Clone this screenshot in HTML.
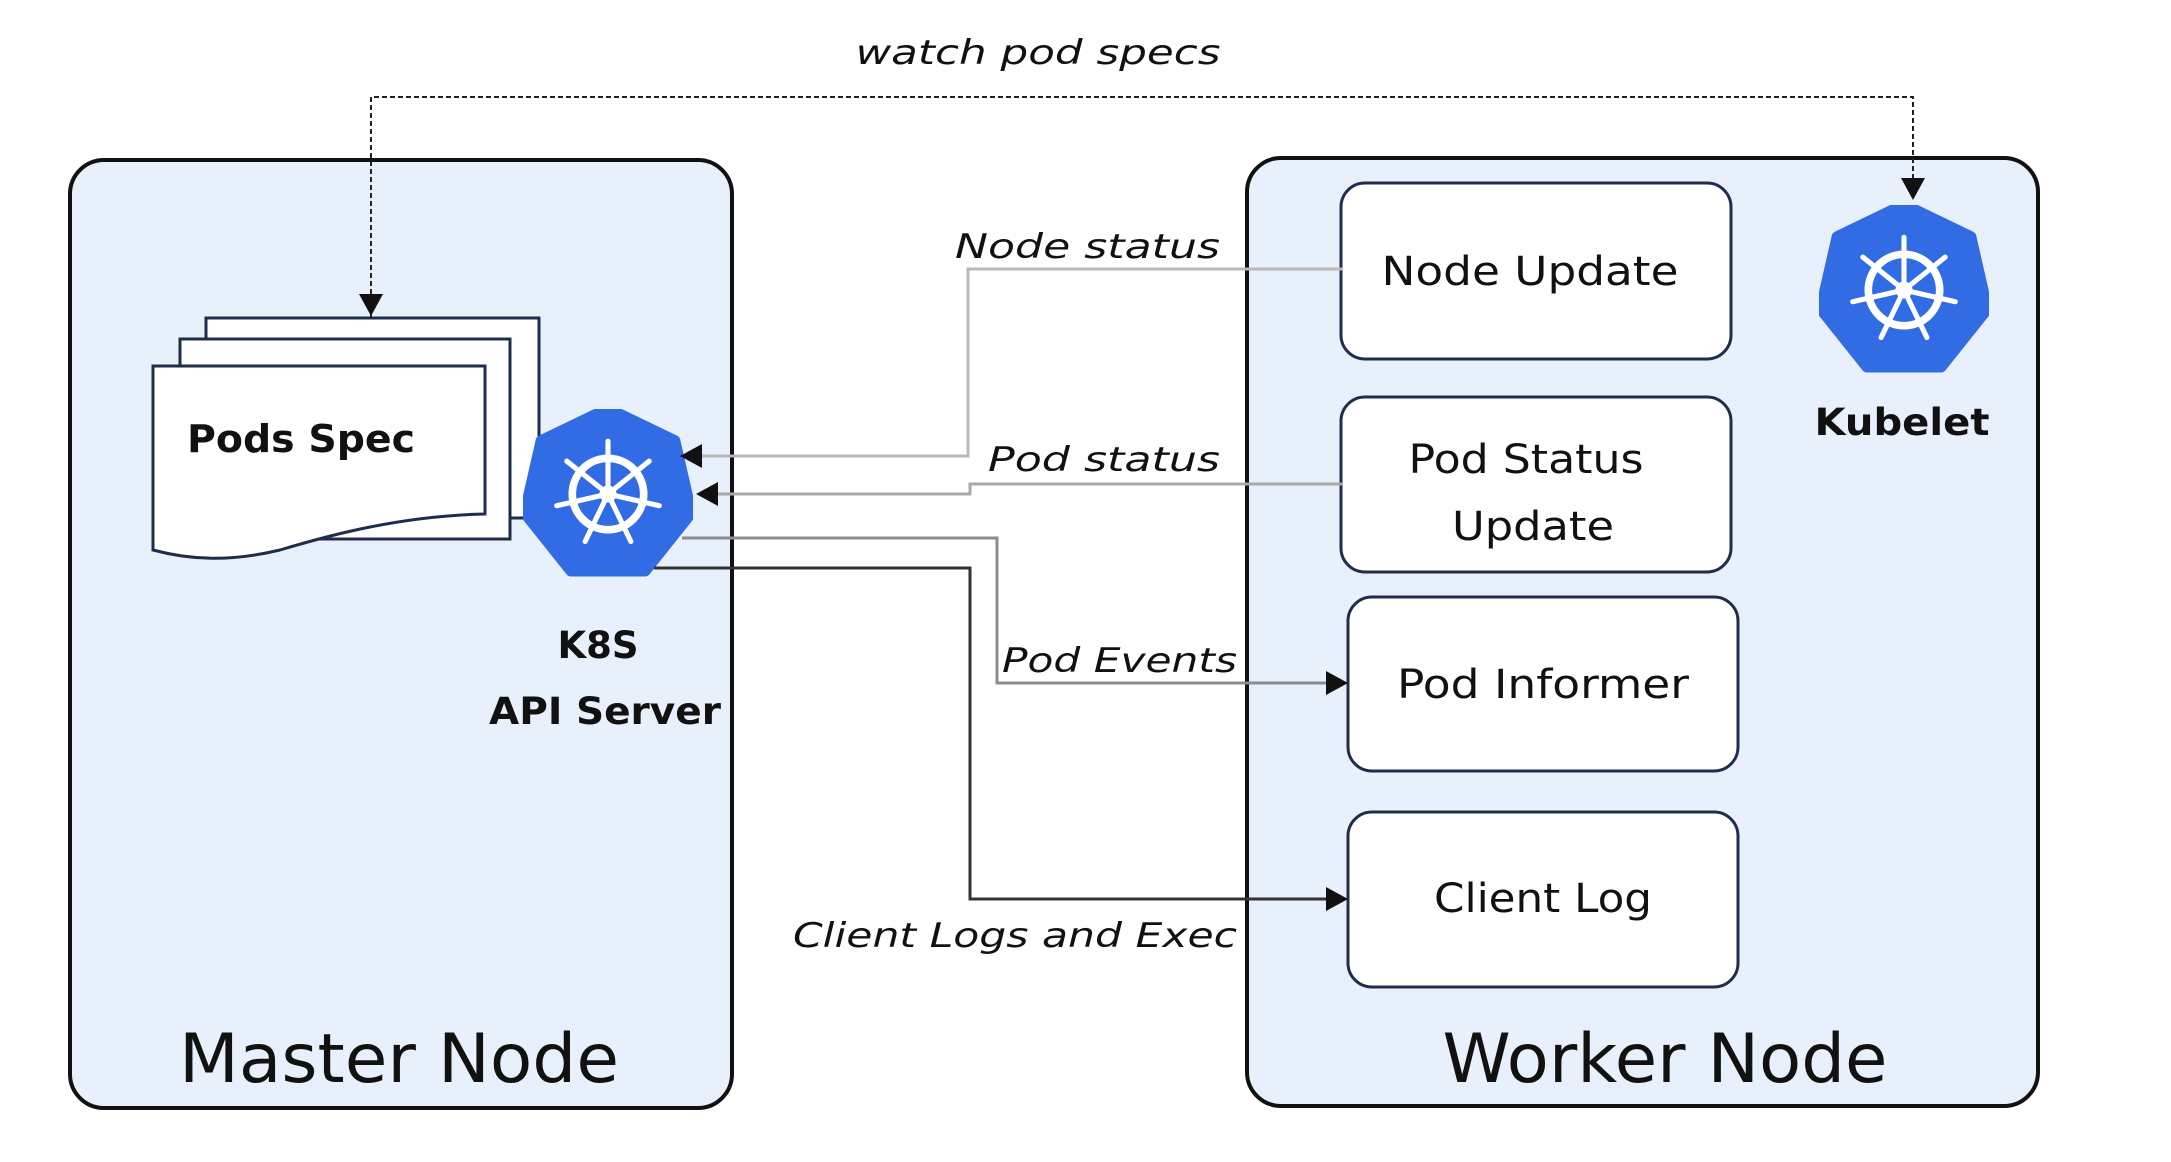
<!DOCTYPE html>
<html><head><meta charset="utf-8"><style>
html,body{margin:0;padding:0;background:#fff;}
svg{display:block;}
text{font-family:"DejaVu Sans","Liberation Sans",sans-serif;}
</style></head><body>
<svg width="2171" height="1162" viewBox="0 0 2171 1162" xmlns="http://www.w3.org/2000/svg">
<defs>
<symbol id="k8s" viewBox="-100 -100 200 200">
<polygon points="0,-100 78.18,-62.35 97.49,22.25 43.39,90.1 -43.39,90.1 -97.49,22.25 -78.18,-62.35" fill="#326CE5" stroke="#326CE5" stroke-width="14" stroke-linejoin="round"/>
<circle cx="0" cy="0" r="42" fill="none" stroke="#fff" stroke-width="9"/>
<circle cx="0" cy="0" r="10" fill="#fff"/>
<g stroke="#fff" stroke-width="6" stroke-linecap="round">
<line x1="0" y1="0" x2="0" y2="-62"/>
<line x1="0" y1="0" x2="48.5" y2="-38.7"/>
<line x1="0" y1="0" x2="60.4" y2="13.8"/>
<line x1="0" y1="0" x2="26.9" y2="55.9"/>
<line x1="0" y1="0" x2="-26.9" y2="55.9"/>
<line x1="0" y1="0" x2="-60.4" y2="13.8"/>
<line x1="0" y1="0" x2="-48.5" y2="-38.7"/>
</g>
</symbol>
</defs>

<!-- Master node -->
<rect x="70" y="160" width="662" height="948" rx="34" fill="#E8F1FB" stroke="#111" stroke-width="4"/>
<text x="399" y="1082" font-size="68" text-anchor="middle" fill="#111" textLength="440" lengthAdjust="spacingAndGlyphs">Master Node</text>

<!-- Pods Spec pages -->
<rect x="206" y="318" width="333" height="200" fill="#fff" stroke="#1f2d4d" stroke-width="3"/>
<rect x="180" y="339" width="330" height="200" fill="#fff" stroke="#1f2d4d" stroke-width="3"/>
<path d="M153,366 L485,366 L485,514 C400,516 330,535 280,550 C230,562 190,560 153,550 Z" fill="#fff" stroke="#1f2d4d" stroke-width="3"/>
<text x="187" y="452" font-size="38" font-weight="bold" fill="#111" textLength="228" lengthAdjust="spacingAndGlyphs">Pods Spec</text>

<!-- API server logo -->
<use href="#k8s" x="523" y="409" width="170" height="170"/>
<text x="598" y="658" font-size="37" font-weight="bold" text-anchor="middle" fill="#111">K8S</text>
<text x="605" y="724" font-size="37" font-weight="bold" text-anchor="middle" fill="#111" textLength="232" lengthAdjust="spacingAndGlyphs">API Server</text>

<g transform="translate(-9,0)">
<!-- Worker node -->
<rect x="1256" y="158" width="791" height="948" rx="34" fill="#E8F1FB" stroke="#111" stroke-width="4"/>
<text x="1674" y="1082" font-size="68" text-anchor="middle" fill="#111" textLength="445" lengthAdjust="spacingAndGlyphs">Worker Node</text>

<!-- Kubelet -->
<use href="#k8s" x="1828" y="205" width="170" height="170"/>
<text x="1911" y="435" font-size="37" font-weight="bold" text-anchor="middle" fill="#111" textLength="175" lengthAdjust="spacingAndGlyphs">Kubelet</text>

<!-- Worker boxes -->
<rect x="1350" y="183" width="390" height="176" rx="24" fill="#fff" stroke="#1f2d4d" stroke-width="3"/>
<text x="1539" y="285" font-size="40" text-anchor="middle" fill="#111" textLength="297" lengthAdjust="spacingAndGlyphs">Node Update</text>
<rect x="1350" y="397" width="390" height="175" rx="24" fill="#fff" stroke="#1f2d4d" stroke-width="3"/>
<text x="1535" y="473" font-size="40" text-anchor="middle" fill="#111" textLength="235" lengthAdjust="spacingAndGlyphs">Pod Status</text>
<text x="1542" y="540" font-size="40" text-anchor="middle" fill="#111" textLength="162" lengthAdjust="spacingAndGlyphs">Update</text>
<rect x="1357" y="597" width="390" height="174" rx="24" fill="#fff" stroke="#1f2d4d" stroke-width="3"/>
<text x="1552" y="698" font-size="40" text-anchor="middle" fill="#111" textLength="292" lengthAdjust="spacingAndGlyphs">Pod Informer</text>
<rect x="1357" y="812" width="390" height="175" rx="24" fill="#fff" stroke="#1f2d4d" stroke-width="3"/>
<text x="1552" y="912" font-size="40" text-anchor="middle" fill="#111" textLength="218" lengthAdjust="spacingAndGlyphs">Client Log</text>
</g>

<!-- watch pod specs -->
<text x="1038" y="64" font-size="34" font-style="italic" text-anchor="middle" fill="#111" textLength="365" lengthAdjust="spacingAndGlyphs">watch pod specs</text>
<path d="M371,318 L371,97 L1913,97 L1913,190" fill="none" stroke="#222" stroke-width="2" stroke-dasharray="5,3"/>
<polygon points="359,294 383,294 371,316" fill="#111"/>
<polygon points="1901,178 1925,178 1913,200" fill="#111"/>

<!-- Node status -->
<path d="M1343,269 L968,269 L968,456 L700,456" fill="none" stroke="#b8b8b8" stroke-width="3"/>
<polygon points="680,456 702,444 702,468" fill="#111"/>
<text x="1220" y="258" font-size="34" font-style="italic" text-anchor="end" fill="#111" textLength="265" lengthAdjust="spacingAndGlyphs">Node status</text>

<!-- Pod status -->
<path d="M1343,484 L970,484 L970,494 L716,494" fill="none" stroke="#a9a9a9" stroke-width="3"/>
<polygon points="696,494 718,482 718,506" fill="#111"/>
<text x="1220" y="471" font-size="34" font-style="italic" text-anchor="end" fill="#111" textLength="232" lengthAdjust="spacingAndGlyphs">Pod status</text>

<!-- Pod Events -->
<path d="M682,538 L997,538 L997,683 L1328,683" fill="none" stroke="#8c8c8c" stroke-width="3"/>
<polygon points="1348,683 1326,671 1326,695" fill="#111"/>
<text x="1002" y="672" font-size="34" font-style="italic" fill="#111" textLength="235" lengthAdjust="spacingAndGlyphs">Pod Events</text>

<!-- Client logs -->
<path d="M654,568 L970,568 L970,899 L1328,899" fill="none" stroke="#333" stroke-width="3"/>
<polygon points="1348,899 1326,887 1326,911" fill="#111"/>
<text x="1237" y="947" font-size="34" font-style="italic" text-anchor="end" fill="#111" textLength="444" lengthAdjust="spacingAndGlyphs">Client Logs and Exec</text>
</svg>
</body></html>
